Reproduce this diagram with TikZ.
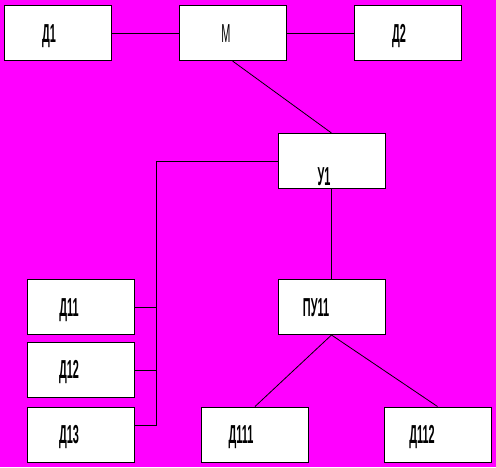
\documentclass[tikz,border=0pt]{standalone}
\usepackage{fontspec}
\newfontfamily\narrowbf[FakeStretch=0.42]{Liberation Sans Bold}
\newfontfamily\narrowrm[FakeStretch=0.42]{Liberation Sans}
\usetikzlibrary{calc}
\definecolor{bgmagenta}{RGB}{255,0,255}

\begin{document}
\begin{tikzpicture}[x=1pt,y=-1pt,
  blk/.style={draw,line width=1pt,fill=white,minimum width=107pt,minimum height=55pt,inner sep=0pt},
  lbl/.style={anchor=base,inner sep=0pt,font=\fontsize{26}{26}\narrowbf},
  wire/.style={line width=1pt},
  thin/.style={line width=0.8pt}
]
  % background
  \fill[bgmagenta] (0,0) rectangle (496,467);
  \useasboundingbox (0,0) rectangle (496,467);

  % top row
  \node[blk] (d1) at (57.5,33) {};
  \node[blk] (m) at (232.5,33) {};
  \node[blk] (d2) at (407.5,33) {};
  \node[lbl] (ld1) at (49,42) {Д1};
  \node[lbl,font=\fontsize{26}{26}\narrowrm] (lm) at (226,42) {М};
  \node[lbl] (ld2) at (399,42) {Д2};

  % middle
  \node[blk] (u1) at (331.5,161) {};
  \node[lbl] (lu1) at (324,185) {У1};
  \node[blk] (pu11) at (331.5,307) {};
  \node[lbl] (lpu11) at (316,316) {ПУ11};

  % left column
  \node[blk] (d11) at (80.5,307) {};
  \node[blk] (d12) at (80.5,370) {};
  \node[blk] (d13) at (80.5,434.5) {};
  \node[lbl] (ld11) at (69,316) {Д11};
  \node[lbl] (ld12) at (69,378) {Д12};
  \node[lbl] (ld13) at (69,443) {Д13};

  % bottom right
  \node[blk] (d111) at (255,434.5) {};
  \node[blk] (d112) at (437.5,434.5) {};
  \node[lbl] (ld111) at (241,443) {Д111};
  \node[lbl] (ld112) at (422,443) {Д112};

  % connectors
  \draw[wire] (d1.east) -- (m.west);
  \draw[wire] (m.east) -- (d2.west);
  \draw[thin] (m.south) -- (u1.north);
  \draw[wire] (u1.south) -- (pu11.north);
  \draw[thin] (pu11.south) -- (d111.north);
  \draw[thin] (pu11.south) -- (d112.north);

  % bus to the left column
  \coordinate (bustop) at (156,161);
  \coordinate (busbot) at (156,425);
  \draw[wire] (u1.west) -- (bustop) -- (busbot) -- (d13.east |- busbot);
  \draw[wire] (d11.east) -- (d11.east -| bustop);
  \draw[wire] (d12.east) -- (d12.east -| bustop);
\end{tikzpicture}
\end{document}
